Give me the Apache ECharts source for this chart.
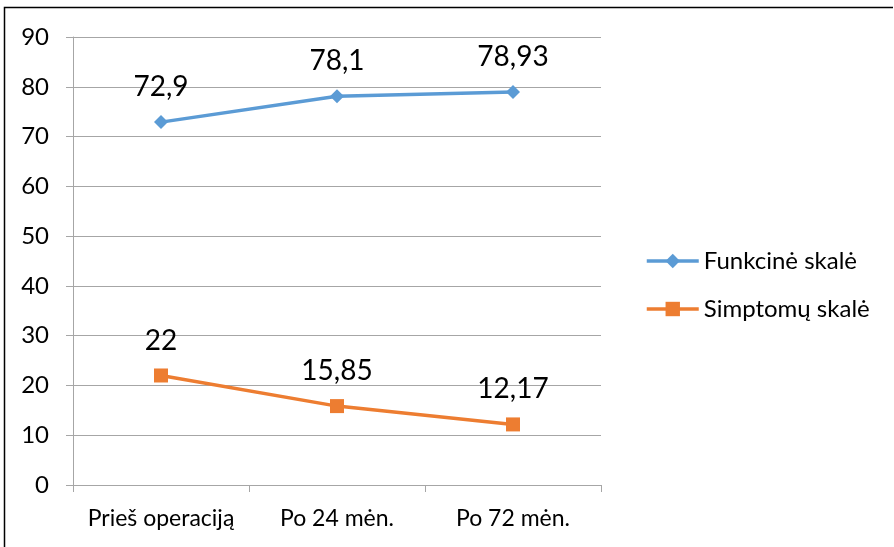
<!DOCTYPE html>
<html><head><meta charset="utf-8">
<script src="https://cdn.jsdelivr.net/npm/echarts@6/dist/echarts.min.js"></script>
<style>html,body{margin:0;padding:0;background:#fff;overflow:hidden}#c{width:894px;height:547px}</style>
</head><body><div id="c"></div>
<script>
const categories = ['Prieš operaciją', 'Po 24 mėn.', 'Po 72 mėn.'];
const funkcine = [72.9, 78.1, 78.93];
const simptomu = [22, 15.85, 12.17];
const seriesNames = ['Funkcinė skalė', 'Simptomų skalė'];
const yTicks = {min: 0, max: 90, interval: 10};

const FONT = 'Lato';
const chart = echarts.init(document.getElementById('c'), null, {renderer: 'canvas'});
const fmt = p => String(p.value).replace('.', ',');
chart.setOption({
  animation: false,
  textStyle: {fontFamily: FONT},
  graphic: [{type: 'polyline', shape: {points: [[4.5, 600], [4.5, 7.5], [893, 7.5]]}, style: {fill: 'none', stroke: '#000', lineWidth: 1.5}, silent: true}],
  grid: {left: 73, top: 37, width: 528, height: 448, containLabel: false},
  xAxis: {
    type: 'category', data: categories, boundaryGap: true,
    axisLine: {lineStyle: {color: '#a6a6a6', width: 1}},
    axisTick: {show: true, length: 7, lineStyle: {color: '#a6a6a6'}},
    axisLabel: {color: '#000', fontSize: 23, margin: 22, interval: 0, hideOverlap: false, fontFamily: FONT}
  },
  yAxis: {
    type: 'value', min: yTicks.min, max: yTicks.max, interval: yTicks.interval,
    axisLine: {show: true, lineStyle: {color: '#a6a6a6', width: 1}},
    axisTick: {show: true, length: 7, lineStyle: {color: '#a6a6a6'}},
    splitLine: {lineStyle: {color: '#a6a6a6', width: 1}},
    axisLabel: {color: '#000', fontSize: 24, margin: 24, fontFamily: FONT}
  },
  legend: {
    orient: 'vertical', left: 640, top: 244, itemWidth: 52, itemHeight: 18, itemGap: 24,
    textStyle: {fontSize: 24, color: '#000', fontFamily: FONT},
    lineStyle: {width: 3.5},
    data: seriesNames
  },
  series: [
    {name: seriesNames[0], type: 'line', data: funkcine, symbol: 'diamond', symbolSize: 14,
     lineStyle: {color: '#5B9BD5', width: 3.5}, itemStyle: {color: '#5B9BD5'},
     label: {show: true, position: 'top', distance: 14, fontSize: 28, color: '#000', formatter: fmt, fontFamily: FONT}},
    {name: seriesNames[1], type: 'line', data: simptomu, symbol: 'rect', symbolSize: 14,
     lineStyle: {color: '#ED7D31', width: 3.5}, itemStyle: {color: '#ED7D31'},
     label: {show: true, position: 'top', distance: 14, fontSize: 28, color: '#000', formatter: fmt, fontFamily: FONT}}
  ]
});
</script></body></html>
